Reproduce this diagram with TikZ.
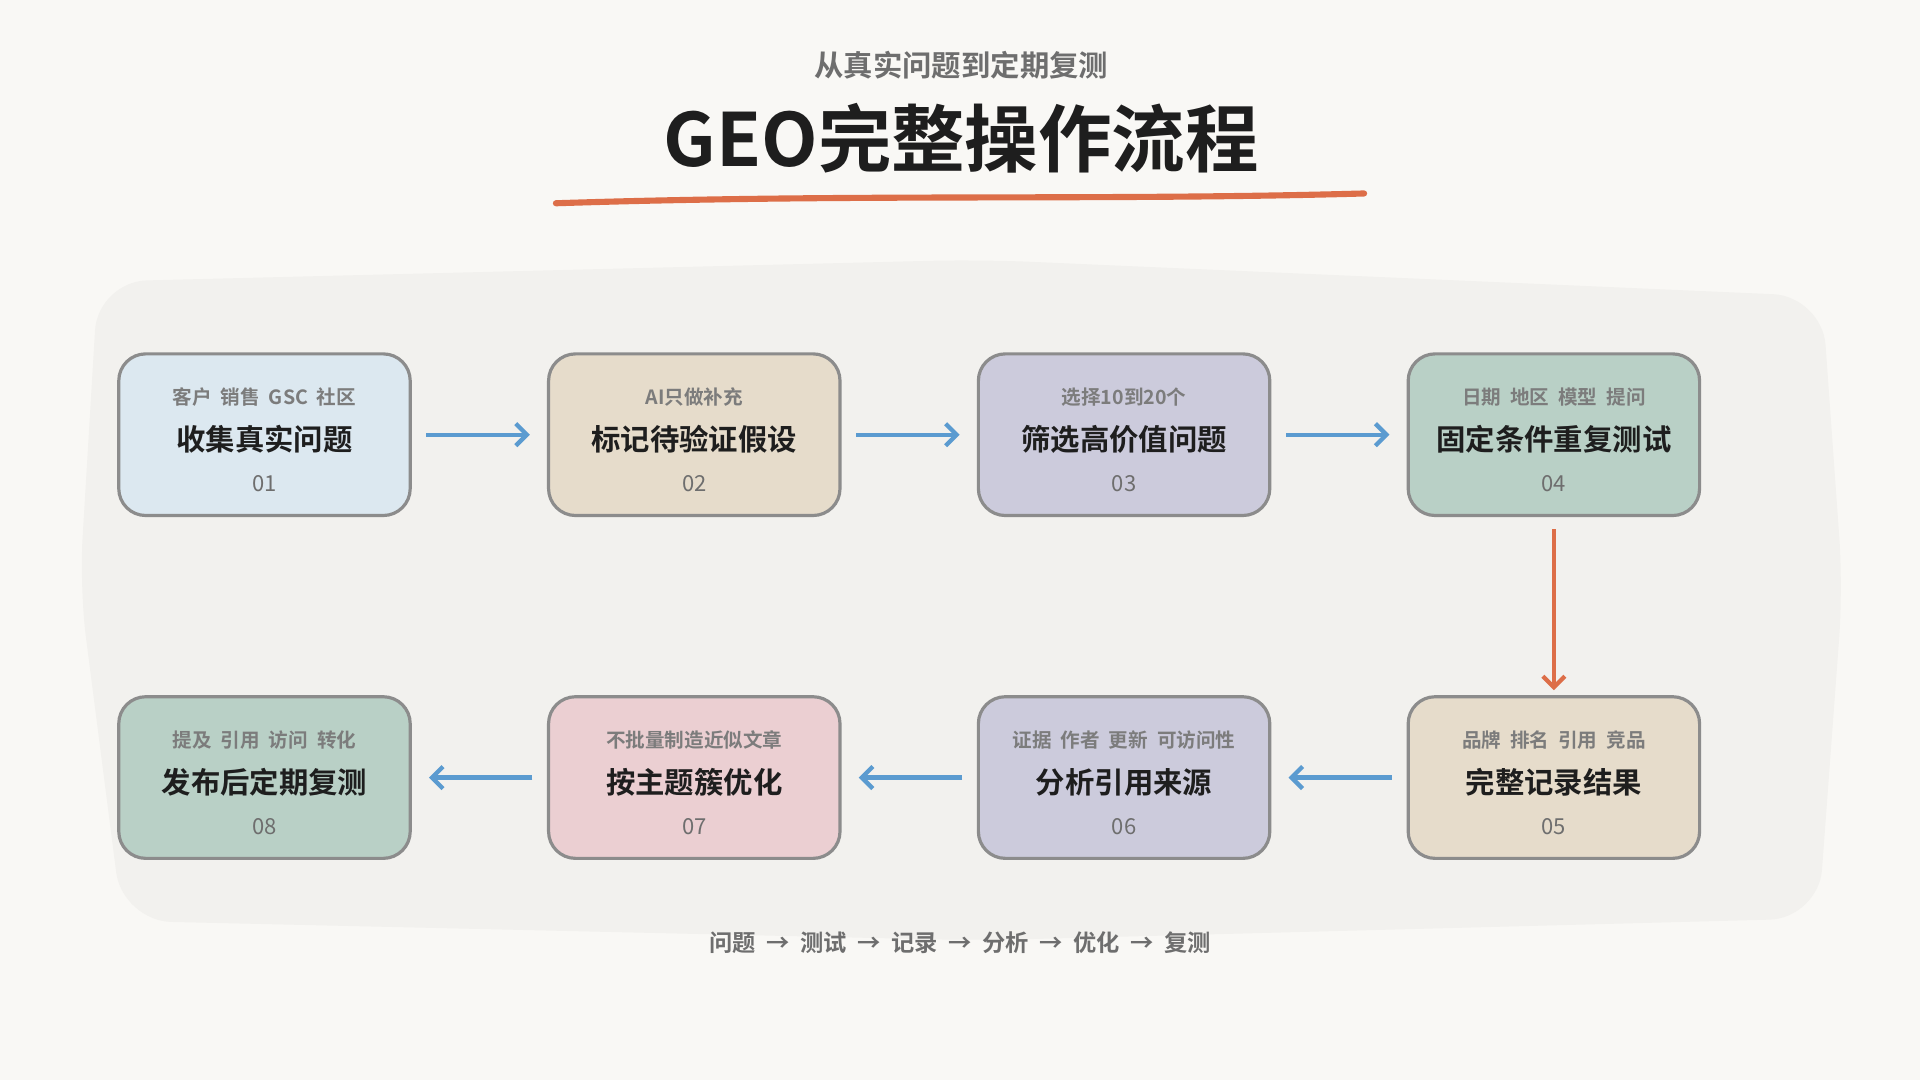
\documentclass[tikz,border=0pt]{standalone}
\usepackage{fontspec}
\setmainfont{Noto Sans CJK SC}[BoldFont={Noto Sans CJK SC Bold}]
\usetikzlibrary{arrows.meta}
\definecolor{pagebg}{HTML}{F9F8F5}
\definecolor{panelbg}{HTML}{F2F1EE}
\definecolor{edge}{HTML}{8C8C8C}
\definecolor{inkgray}{HTML}{6E6E6E}
\definecolor{ink}{HTML}{1E1E1E}
\definecolor{flowblue}{HTML}{5B9BD0}
\definecolor{rust}{HTML}{DD6E48}
\definecolor{cblue}{HTML}{DCE8F0}
\definecolor{csand}{HTML}{E6DCCB}
\definecolor{clilac}{HTML}{CCCBDC}
\definecolor{csage}{HTML}{B9D0C6}
\definecolor{crose}{HTML}{EBCFD2}
\begin{document}
\begin{tikzpicture}[x=1pt,y=-1pt]
    % Define styles
    \tikzset{
        stage/.style={
            draw=edge,
            line width=2.6pt,
            rounded corners=22pt,
            minimum width=238pt,
            minimum height=132pt
        },
        num/.style={font=\fontsize{18}{20}\selectfont, text=inkgray},
        head/.style={font=\fontsize{24}{26}\selectfont\bfseries, text=ink},
        sub/.style={font=\fontsize{16}{18}\selectfont\bfseries, text=inkgray!90},
        flow/.style={-{Straight Barb[length=9pt,width=18pt]}, flowblue, line width=3.5pt},
        drop/.style={-{Straight Barb[length=9pt,width=18pt]}, rust, line width=3.5pt}
    }
    \useasboundingbox[fill=pagebg] (0,0) rectangle (1568,882);

    % Background panel
    \fill[panelbg, rounded corners=40pt] (80,230) -- (800,212) -- (1488,242)
        -- (1505,480) -- (1485,750) -- (800,768) -- (100,752) -- (65,480) -- cycle;

    % Title
    \node[font=\fontsize{24}{26}\selectfont\bfseries, text=inkgray] (subtitle) at (785,53) {从真实问题到定期复测};
    \node[font=\fontsize{60}{64}\selectfont\bfseries, text=ink] (title) at (785,113) {GEO完整操作流程};
    \draw[rust, line width=5pt, line cap=round] (454,166) .. controls (700,158) and (900,164) .. (1114,158);

    % Steps, top row
    \node[stage, fill=cblue] (s1) at (216,355) {};
    \node[stage, fill=csand] (s2) at (567,355) {};
    \node[stage, fill=clilac] (s3) at (918,355) {};
    \node[stage, fill=csage] (s4) at (1269,355) {};
    % Steps, bottom row
    \node[stage, fill=csage] (s8) at (216,635) {};
    \node[stage, fill=crose] (s7) at (567,635) {};
    \node[stage, fill=clilac] (s6) at (918,635) {};
    \node[stage, fill=csand] (s5) at (1269,635) {};

    % Step texts
    \foreach \s/\n/\h/\t in {s1/01/收集真实问题/客户\ \ 销售\ \ GSC\ \ 社区,
                             s2/02/标记待验证假设/AI只做补充,
                             s3/03/筛选高价值问题/选择10到20个,
                             s4/04/固定条件重复测试/日期\ \ 地区\ \ 模型\ \ 提问,
                             s5/05/完整记录结果/品牌\ \ 排名\ \ 引用\ \ 竞品,
                             s6/06/分析引用来源/证据\ \ 作者\ \ 更新\ \ 可访问性,
                             s7/07/按主题簇优化/不批量制造近似文章,
                             s8/08/发布后定期复测/提及\ \ 引用\ \ 访问\ \ 转化}{
        \node[num] (\s-num) at ([yshift=-40pt]\s.center) {\n};
        \node[head] (\s-head) at ([yshift=-4pt]\s.center) {\h};
        \node[sub] (\s-sub) at ([yshift=31pt]\s.center) {\t};
    }

    % Connectors
    \draw[flow] ([xshift=12pt]s1.east) -- ([xshift=-14pt]s2.west);
    \draw[flow] ([xshift=12pt]s2.east) -- ([xshift=-14pt]s3.west);
    \draw[flow] ([xshift=12pt]s3.east) -- ([xshift=-14pt]s4.west);
    \draw[drop] ([yshift=-10pt]s4.south) -- ([yshift=4pt]s5.north);
    \draw[flow] ([xshift=-12pt]s5.west) -- ([xshift=14pt]s6.east);
    \draw[flow] ([xshift=-12pt]s6.west) -- ([xshift=14pt]s7.east);
    \draw[flow] ([xshift=-12pt]s7.west) -- ([xshift=14pt]s8.east);

    % Footer
    \node[font=\fontsize{19}{21}\selectfont\bfseries, text=inkgray] (footer) at (784,770)
        {问题\ \ →\ \ 测试\ \ →\ \ 记录\ \ →\ \ 分析\ \ →\ \ 优化\ \ →\ \ 复测};
\end{tikzpicture}
\end{document}
